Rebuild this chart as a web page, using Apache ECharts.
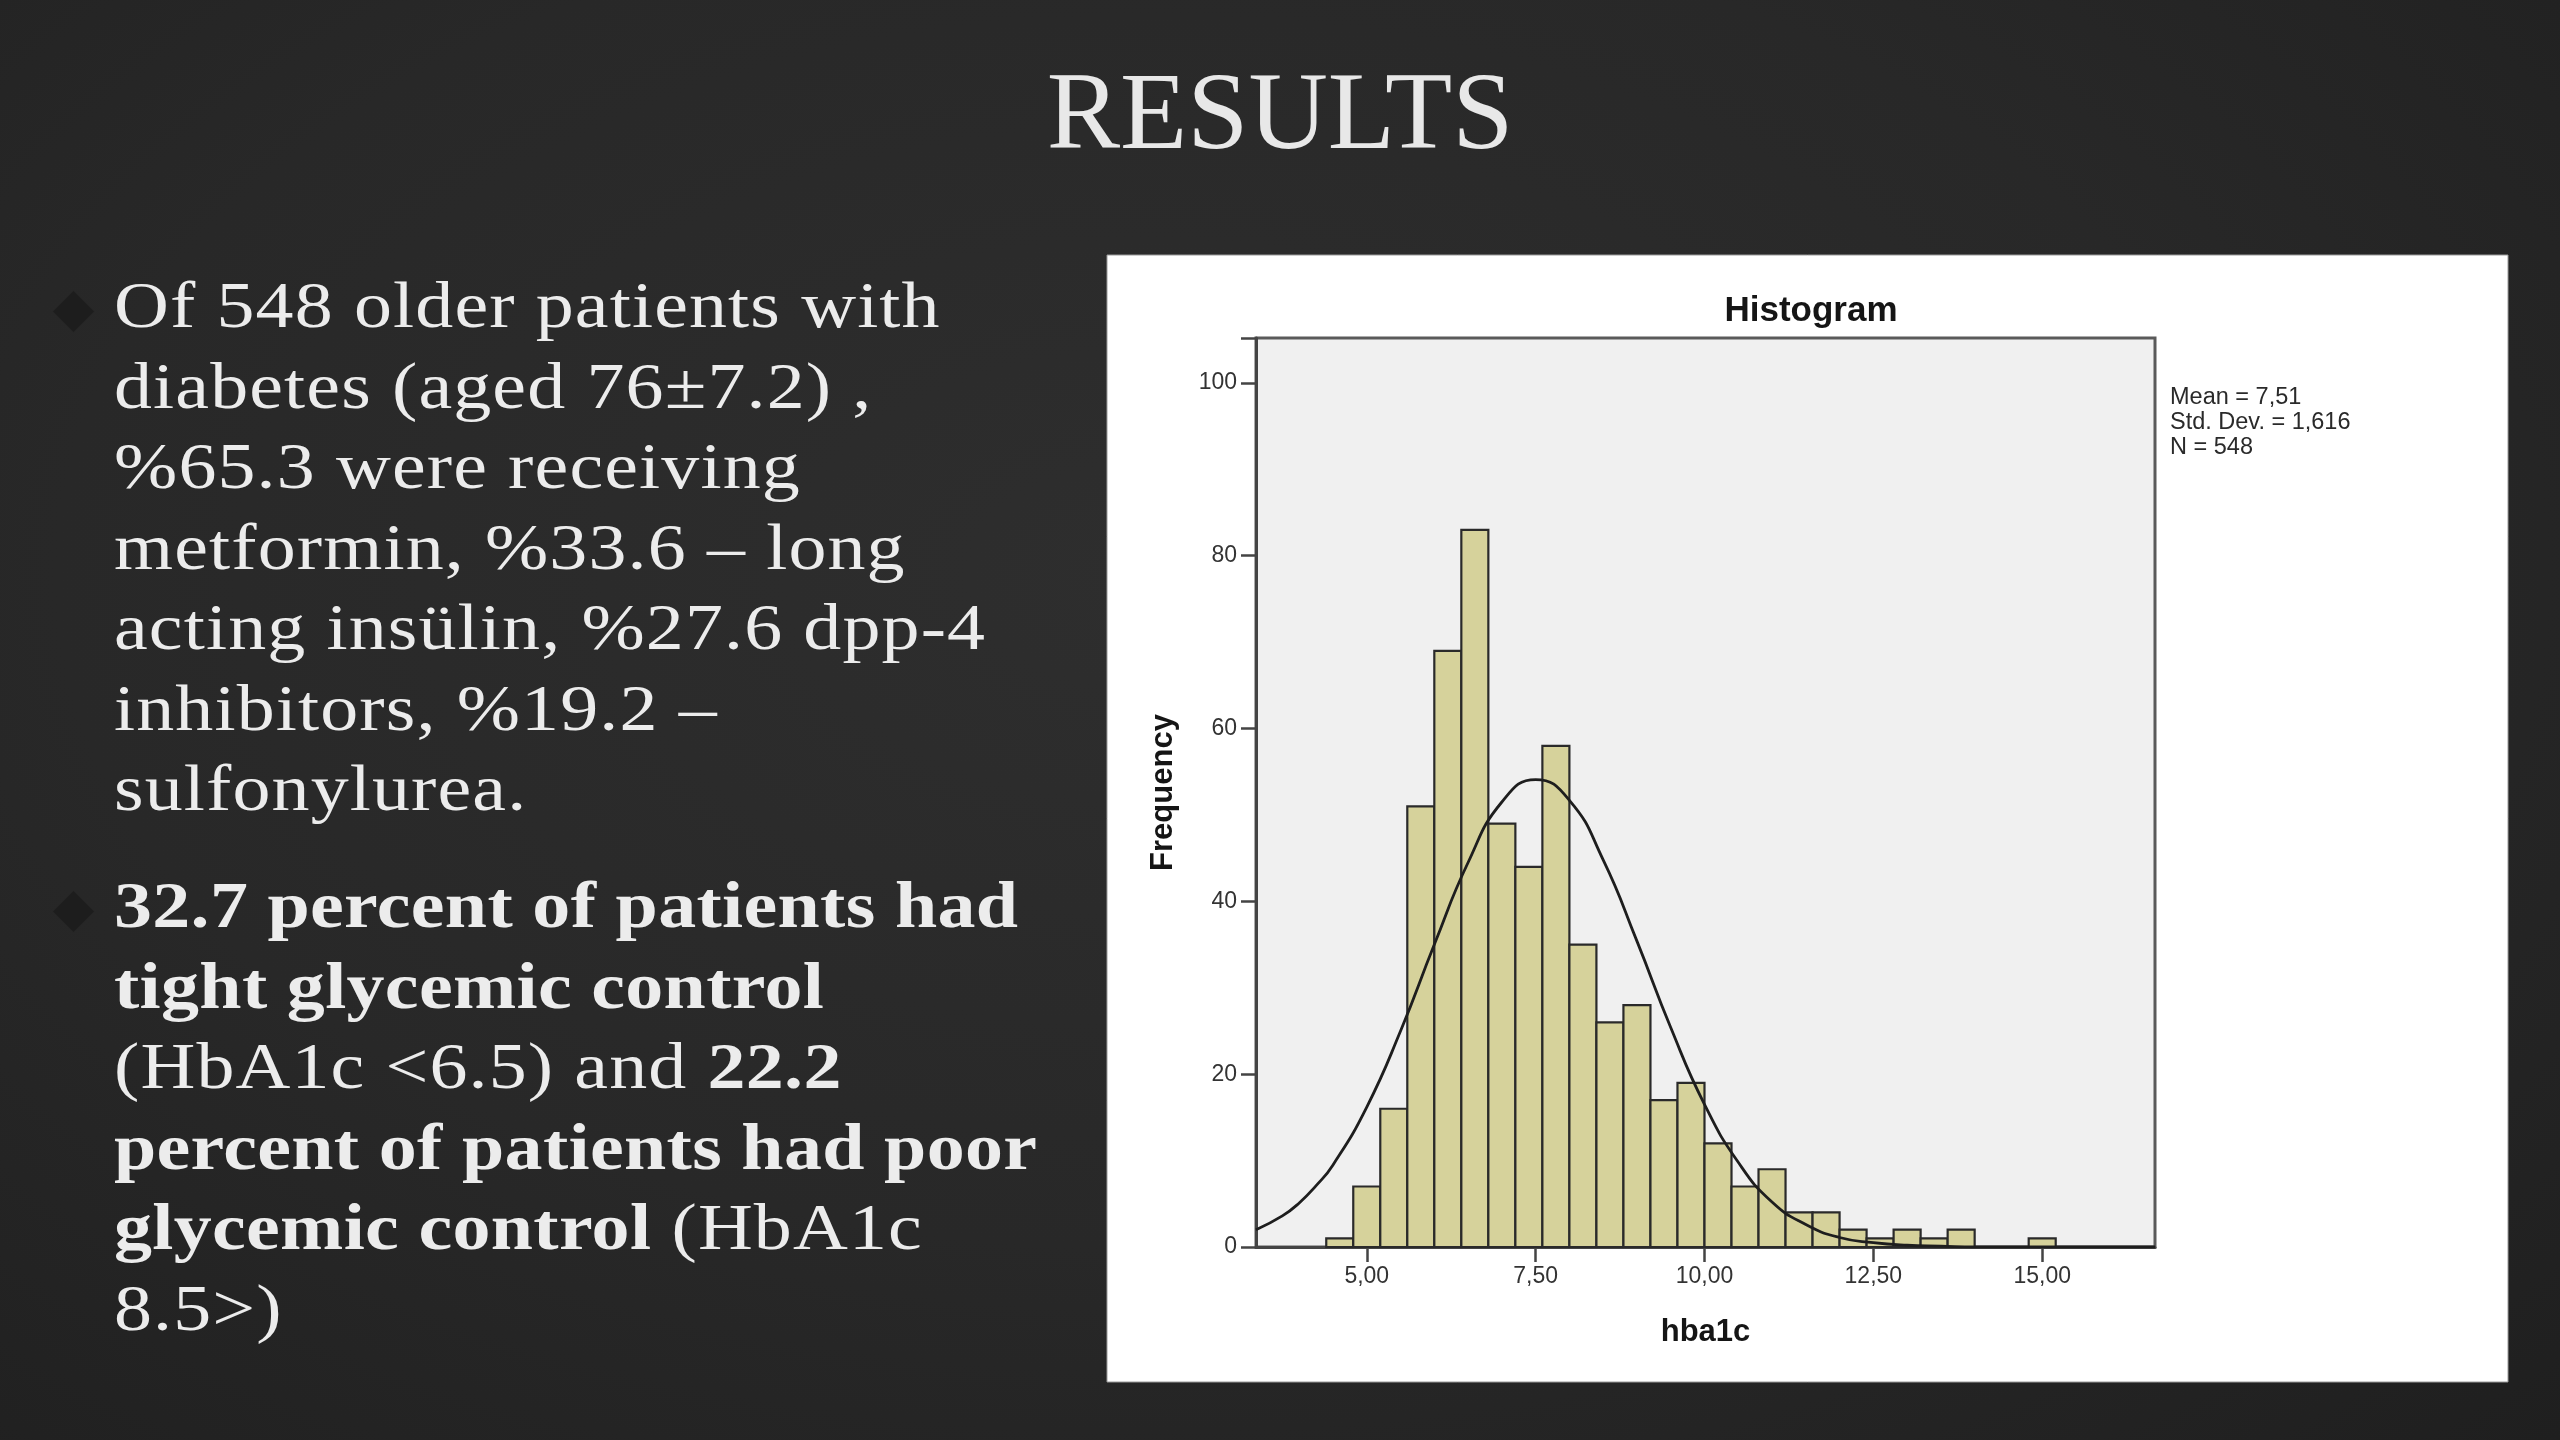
<!DOCTYPE html>
<html>
<head>
<meta charset="utf-8">
<script src="https://cdn.jsdelivr.net/npm/echarts@6/dist/echarts.min.js"></script>
<style>
  html, body { margin:0; padding:0; width:2560px; height:1440px; overflow:hidden; }
  body { background: radial-gradient(ellipse at 45% 40%, #2e2e2e 0%, #282828 55%, #1f1f1f 100%); position:relative; }
  #chart { position:absolute; left:0; top:0; width:2560px; height:1440px; }
  .title { position:absolute; left:0; top:56px; width:2560px; text-align:center; font-family:"Liberation Serif","Times New Roman",serif; font-size:110px; line-height:110px; color:#e8e8e8; }
  .para { position:absolute; left:114px; font-family:"Liberation Serif","Times New Roman",serif; font-size:66px; line-height:80.5px; color:#ececec; white-space:nowrap; letter-spacing:1px; transform:scaleX(1.15); transform-origin:0 0; }
  .para b { letter-spacing:0.3px; }
  .bullet { position:absolute; width:29px; height:29px; background:#1d1d1d; border:1px solid #262626; transform:rotate(45deg); }
</style>
</head>
<body>
<div id="chart"></div>
<div class="title">RESULTS</div>
<div class="bullet" style="left:58px; top:296px;"></div>
<div class="bullet" style="left:58px; top:896px;"></div>
<div class="para" style="top:265px;">Of 548 older patients with<br>diabetes (aged 76±7.2) ,<br>%65.3 were receiving<br>metformin, %33.6 – long<br>acting insülin, %27.6 dpp-4<br>inhibitors, %19.2 –<br>sulfonylurea.</div>
<div class="para" style="top:865px;"><b>32.7 percent of patients had</b><br><b>tight glycemic control</b><br>(HbA1c &lt;6.5) and <b>22.2</b><br><b>percent of patients had poor</b><br><b>glycemic control</b> (HbA1c<br>8.5&gt;)</div>
<script>
// ---- data ----
const binCenters = [4.6, 5.0, 5.4, 5.8, 6.2, 6.6, 7.0, 7.4, 7.8, 8.2, 8.6, 9.0, 9.4, 9.8, 10.2, 10.6, 11.0, 11.4, 11.8, 12.2, 12.6, 13.0, 13.4, 13.8, 14.2, 14.6, 15.0];
const frequencies = [1, 7, 16, 51, 69, 83, 49, 44, 58, 35, 26, 28, 17, 19, 12, 7, 9, 4, 4, 2, 1, 2, 1, 2, 0, 0, 1];
const binWidth = 0.4;
const curveX = [3.36, 3.75, 4.0, 4.25, 4.5, 5.0, 5.5, 6.0, 6.5, 7.0, 7.5, 8.0, 8.5, 9.0, 9.5, 10.0, 10.5, 11.0, 11.5, 12.0, 12.5, 13.0, 13.5, 14.0, 14.5, 15.0, 15.5, 16.0, 16.67];
const curveY = [2.0, 3.6, 5.1, 7.1, 9.5, 16.2, 25.0, 35.0, 44.5, 51.5, 54.1, 51.7, 44.8, 35.4, 25.4, 16.5, 9.8, 5.2, 2.6, 1.1, 0.5, 0.2, 0.1, 0.0, 0.0, 0.0, 0.0, 0.0, 0.0];
const xTickValues = [5, 7.5, 10, 12.5, 15];
const statsLines = ['Mean = 7,51', 'Std. Dev. = 1,616', 'N = 548'];

const chart = echarts.init(document.getElementById('chart'), null, {renderer: 'canvas'});
const sansFont = '"Liberation Sans", Arial, Helvetica, sans-serif';

const barData = binCenters.map((c, i) => [c - binWidth / 2, c + binWidth / 2, frequencies[i]]);
const curveData = curveX.map((x, i) => [x, curveY[i]]);

const option = {
  backgroundColor: 'transparent',
  animation: false,
  title: {
    text: 'Histogram',
    left: 1806,
    top: 289,
    textAlign: 'center',
    textStyle: { fontFamily: sansFont, fontSize: 35, fontWeight: 'bold', color: '#151515' }
  },
  graphic: [
    { type: 'rect', z: -10, shape: { x: 1107, y: 255, width: 1401, height: 1127 },
      style: { fill: '#ffffff', stroke: '#9a9a9a', lineWidth: 1 } },
    { type: 'text', z: 10, x: 2170, y: 385,
      style: { text: statsLines.join('\n'), fontFamily: sansFont, fontSize: 23.5, lineHeight: 25, fill: '#2a2a2a' } }
  ],
  grid: {
    left: 1256, right: 405, top: 338, bottom: 193,
    show: true, backgroundColor: '#f0f0f0', borderColor: '#5a5a5a', borderWidth: 3
  },
  xAxis: {
    type: 'value', min: 3.36, max: 16.67,
    name: 'hba1c', nameLocation: 'middle', nameGap: 70,
    nameTextStyle: { fontFamily: sansFont, fontSize: 31, fontWeight: 'bold', color: '#151515' },
    axisLine: { show: true, onZero: false, lineStyle: { color: '#444', width: 3 } },
    axisTick: { show: true, length: 15, customValues: xTickValues, lineStyle: { color: '#444', width: 2.5 } },
    axisLabel: { customValues: xTickValues, margin: 18, fontFamily: sansFont, fontSize: 23, color: '#333',
      formatter: v => v.toFixed(2).replace('.', ',') },
    splitLine: { show: false }
  },
  yAxis: {
    type: 'value', min: 0, max: 105.2, interval: 20,
    name: 'Frequency', nameLocation: 'middle', nameGap: 77,
    nameTextStyle: { fontFamily: sansFont, fontSize: 31, fontWeight: 'bold', color: '#151515' },
    axisLine: { show: true, lineStyle: { color: '#444', width: 3 } },
    axisTick: { show: true, length: 15, lineStyle: { color: '#444', width: 2.5 } },
    axisLabel: { margin: 19, fontFamily: sansFont, fontSize: 23, color: '#333',
      formatter: v => (v % 20 === 0 ? String(v) : '') },
    splitLine: { show: false }
  },
  series: [
    {
      type: 'custom',
      data: barData,
      encode: { x: [0, 1], y: 2 },
      renderItem: function (params, api) {
        const x0 = api.value(0), x1 = api.value(1), h = api.value(2);
        if (h <= 0) return null;
        const p0 = api.coord([x0, h]);
        const p1 = api.coord([x1, 0]);
        return {
          type: 'rect',
          shape: { x: p0[0], y: p0[1], width: p1[0] - p0[0], height: p1[1] - p0[1] },
          style: { fill: '#d6d29b', stroke: '#2a2a2a', lineWidth: 2.2 }
        };
      },
      z: 2
    },
    {
      type: 'line',
      data: curveData,
      smooth: 0.5,
      showSymbol: false,
      symbol: 'none',
      clip: true,
      lineStyle: { color: '#1e1e1e', width: 2.8 },
      z: 3
    }
  ]
};
chart.setOption(option);
</script>
</body>
</html>
